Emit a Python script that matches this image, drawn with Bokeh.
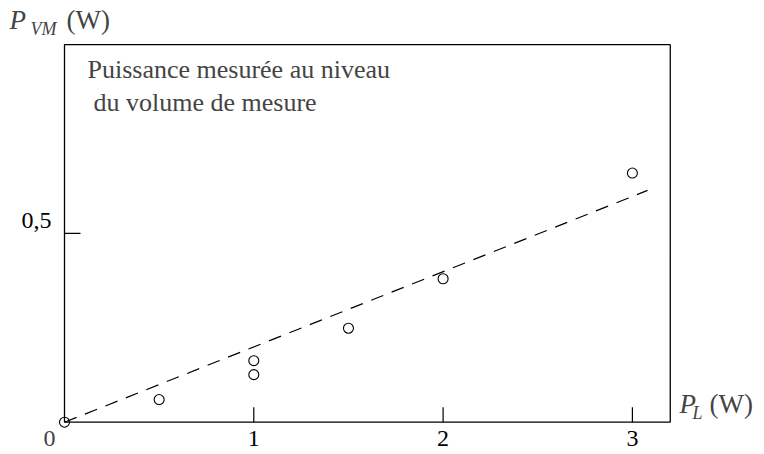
from bokeh.plotting import figure
from bokeh.models import Range1d, Label, BoxAnnotation
from bokeh.core.properties import value
from bokeh.embed import file_html
from bokeh.resources import INLINE

# ---- data ----
x_pl = [0.0, 0.5, 1.0, 1.0, 1.5, 2.0, 3.0]          # P_L (W)
y_pvm = [0.0, 0.06, 0.126, 0.163, 0.249, 0.380, 0.660]  # P_VM (W)
fit_x = [0.0, 3.08]
fit_y = [0.0, 0.614]
x_ticks = [1, 2, 3]
x_tick_labels = ["1", "2", "3"]
y_ticks = [0.5]
y_tick_labels = ["0,5"]
x_max = 3.2
y_max = 1.0

FONT = "Liberation Serif"
W, H = 764, 454
OFF = 0
PX0, SX = 64.0, 189.3
PY0, SY = 421.7, 377.5
SHIFT = 0.38  # empirical baseline correction (em)


def dx(px):
    return (px - PX0) / SX


def dy(py):
    return (PY0 - py) / SY


p = figure(width=W, height=H, x_range=Range1d(dx(OFF), dx(OFF + W)),
           y_range=Range1d(dy(OFF + H), dy(OFF)), output_backend="svg",
           toolbar_location=None, min_border=0, x_axis_type=None, y_axis_type=None)
p.outline_line_color = None
p.background_fill_color = "white"
p.border_fill_color = "white"

# frame
p.add_layout(BoxAnnotation(left=0, right=x_max, bottom=0, top=y_max,
                           fill_alpha=0, line_color="black", line_alpha=1.0,
                           line_width=1.3))

# ticks (inward)
p.segment(x0=x_ticks, y0=[0] * len(x_ticks), x1=x_ticks, y1=[15 / SY] * len(x_ticks),
          line_color="black", line_width=1.2)
p.segment(x0=[0] * len(y_ticks), y0=y_ticks, x1=[16 / SX] * len(y_ticks), y1=y_ticks,
          line_color="black", line_width=1.2)

TS = 24
XB = 447  # baseline of x tick labels
# tick labels
p.text(x=x_ticks, y=[dy(XB - SHIFT * TS)] * len(x_ticks), text=x_tick_labels,
       text_align="center", text_baseline="alphabetic", text_font=value(FONT),
       text_font_size=f"{TS}px", text_color="black")
p.text(x=[dx(51)] * len(y_ticks), y=[dy(229 - SHIFT * TS)] * len(y_ticks),
       text=y_tick_labels, text_align="right", text_baseline="alphabetic",
       text_font=value(FONT), text_font_size=f"{TS}px", text_color="black")
p.add_layout(Label(x=dx(49), y=dy(XB - SHIFT * TS), text="0", text_align="center",
                   text_baseline="alphabetic", text_font=FONT,
                   text_font_size=f"{TS}px"))

# dashed fit line
p.line(fit_x, fit_y, line_color="black", line_width=1.2, line_dash="13 9")

# measured points
p.scatter(x_pl, y_pvm, marker="circle", size=10, fill_color=None,
          line_color="black", line_width=1.1)


def lab(px, py, text, size=27, style="normal"):
    p.add_layout(Label(x=dx(px), y=dy(py - SHIFT * size), text=text, text_font=FONT,
                       text_font_size=f"{size}px", text_font_style=style,
                       text_baseline="alphabetic", text_align="left"))


# axis titles
lab(9, 30, "P", style="italic")
lab(30, 35, "VM", size=18, style="italic")
lab(66, 30, "(W)")
lab(679, 414, "P", style="italic")
lab(692, 419, "L", size=18, style="italic")
lab(709, 414, "(W)")

# annotation text
lab(87, 79, "Puissance mesurée au niveau", size=26)
lab(93, 112, "du volume de mesure", size=26)

open("out.html", "w").write(file_html(p, INLINE))
